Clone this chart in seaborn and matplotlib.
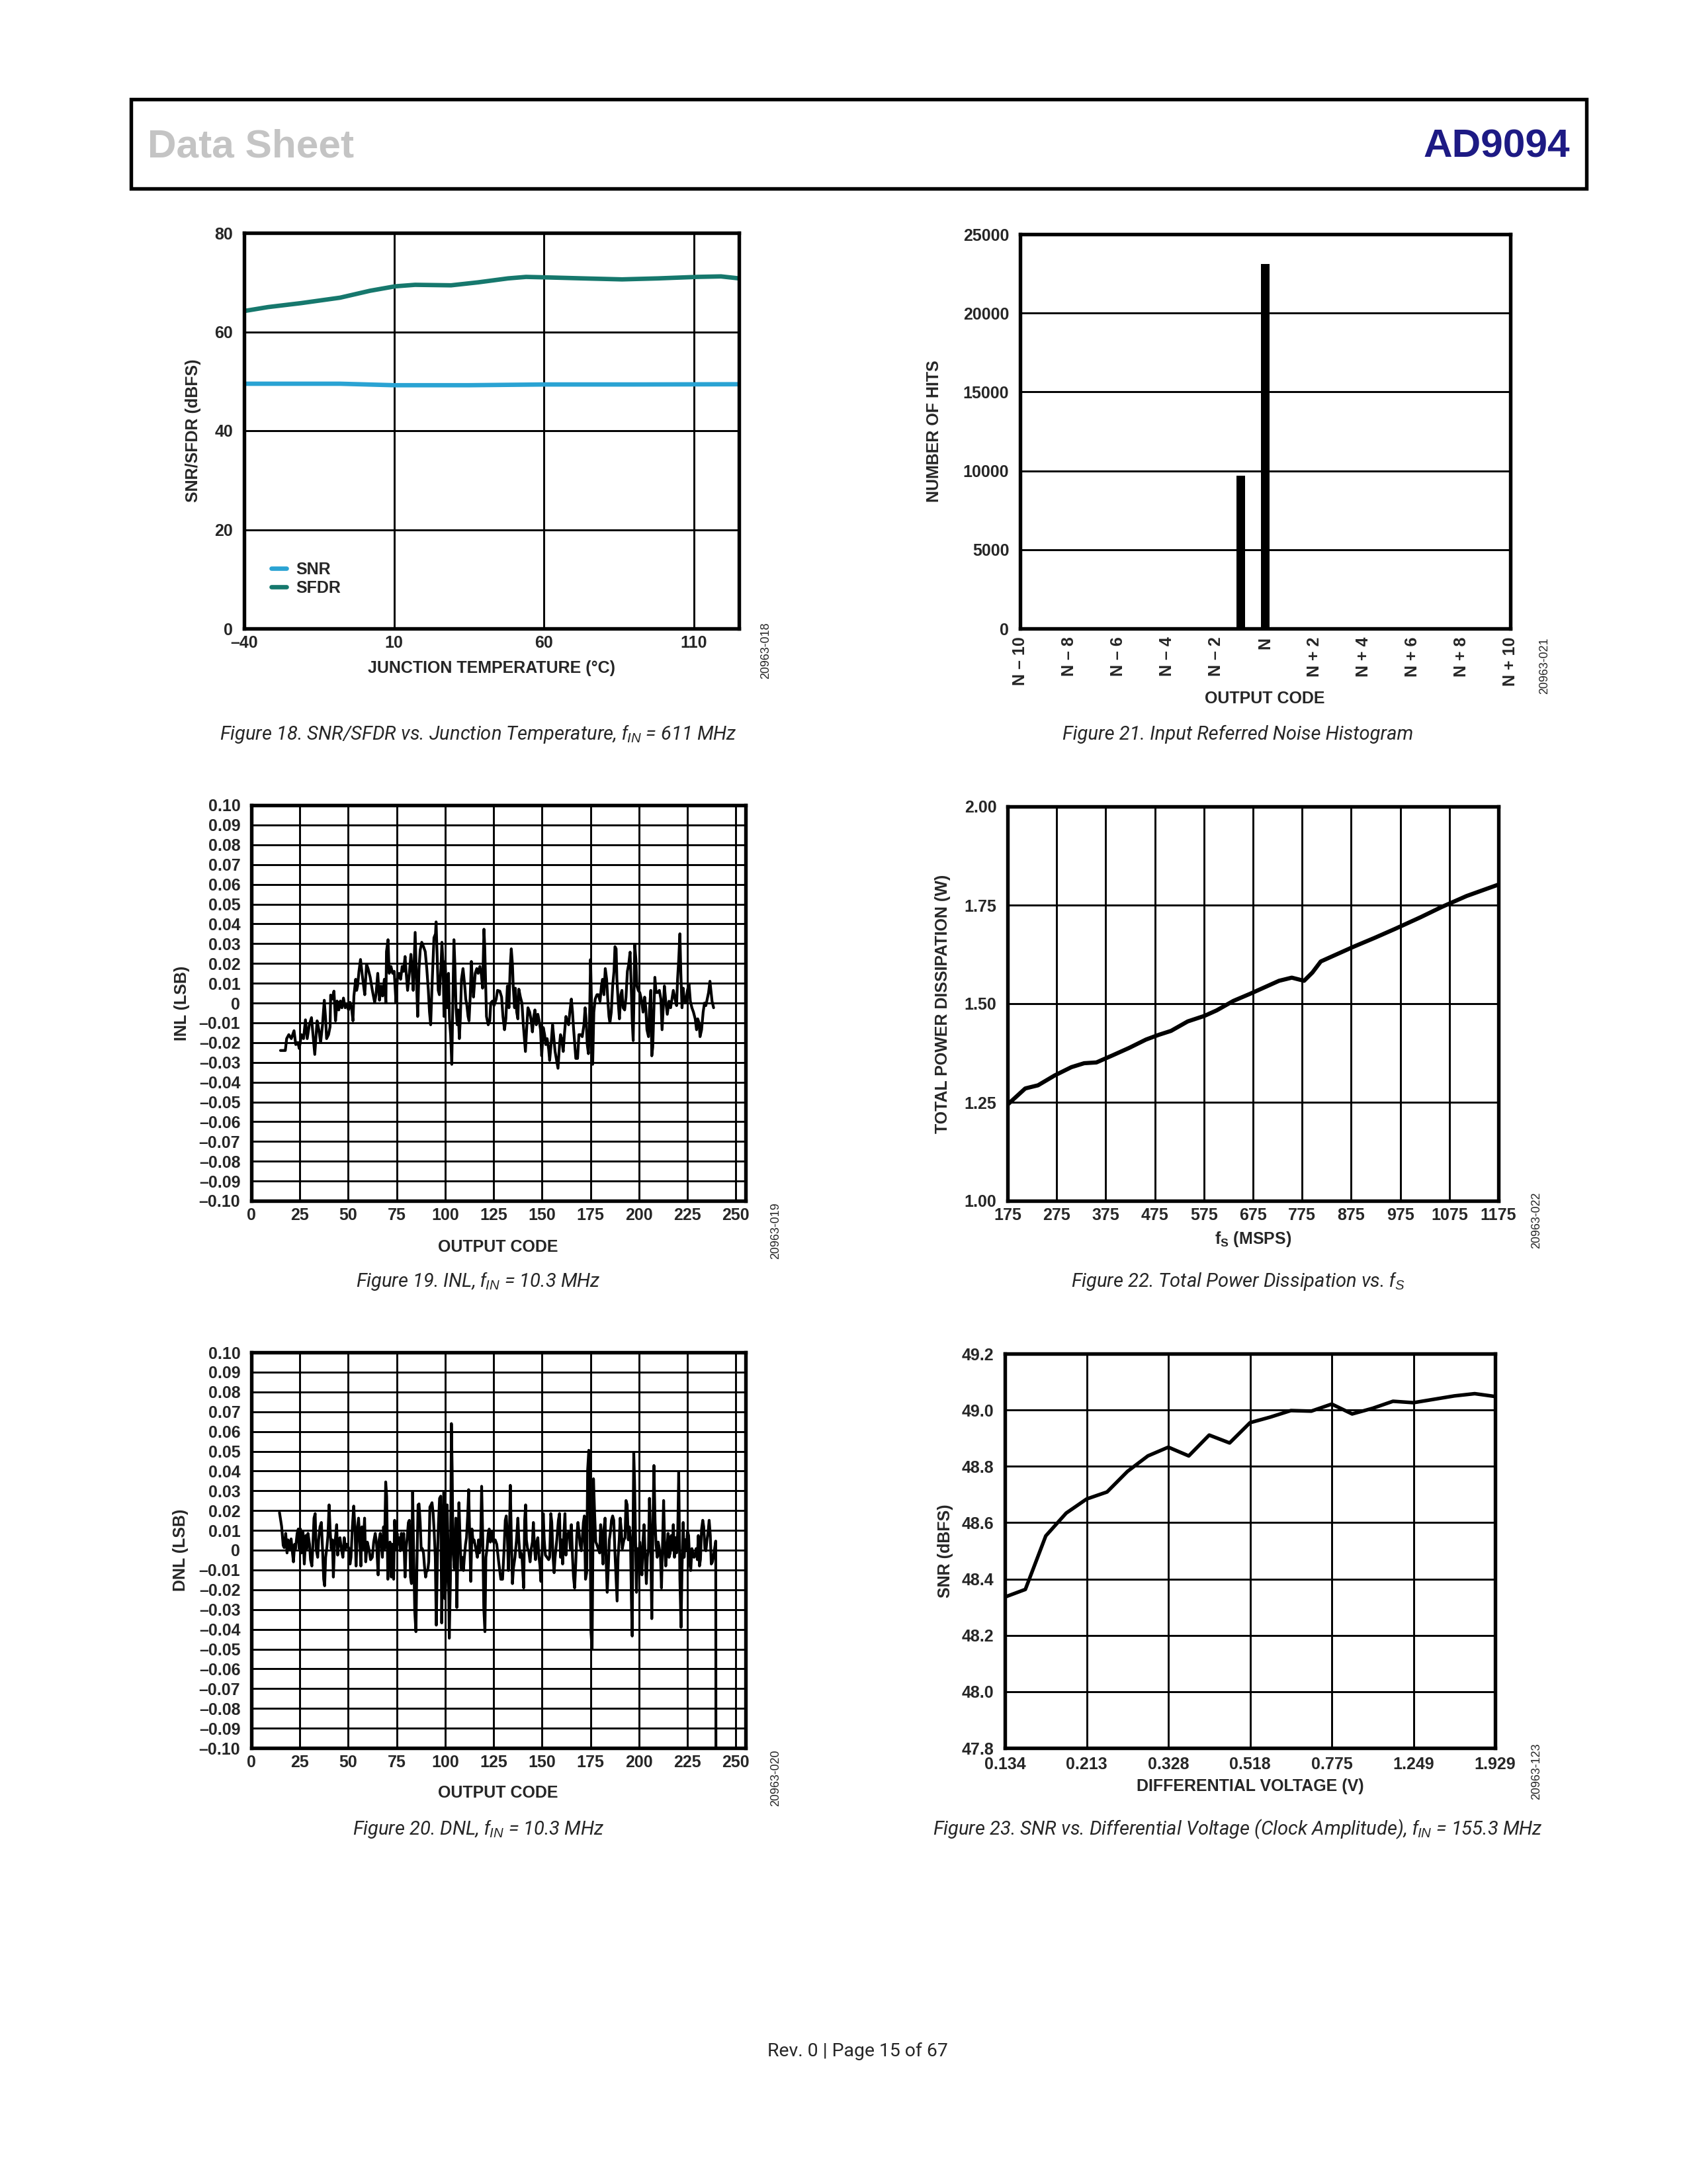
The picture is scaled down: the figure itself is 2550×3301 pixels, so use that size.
import matplotlib
matplotlib.use("Agg")
import matplotlib.pyplot as plt
from matplotlib.lines import Line2D
from matplotlib.patches import Rectangle
import seaborn as sns

# ── data ────────────────────────────────────────────────────────────────────
# Figure 18: SNR/SFDR vs junction temperature
temp_sfdr = [-40, -32, -21, -8, 2, 10.4, 17, 29, 38, 48, 54, 61, 73, 86, 98, 111, 119, 125]
sfdr_dbfs = [64.2, 65.0, 65.8, 66.9, 68.3, 69.2, 69.5, 69.4, 70.0, 70.8, 71.1, 71.0,
             70.8, 70.6, 70.8, 71.1, 71.2, 70.8]
temp_snr = [-40, -8, 10, 35, 60, 90, 125]
snr_dbfs = [49.5, 49.5, 49.2, 49.2, 49.35, 49.35, 49.4]

# Figure 21: input referred noise histogram
hist_offset = [-1, 0]
hist_hits = [9700, 23100]
hist_tick_pos = [-10, -8, -6, -4, -2, 0, 2, 4, 6, 8, 10]
hist_tick_lbl = ["N \u2013 10", "N \u2013 8", "N \u2013 6", "N \u2013 4", "N \u2013 2", "N",
                 "N + 2", "N + 4", "N + 6", "N + 8", "N + 10"]

# Figure 19: INL
inl_code = [15.0, 17.5, 18.2, 19.3, 20.6, 22.0, 22.9, 24.0, 24.7, 25.8, 26.9, 27.9, 28.8,
            29.9, 31.0, 31.8, 32.7, 33.9, 34.8, 35.7, 36.7, 37.6, 38.3, 38.8, 39.8, 40.6,
            40.9, 41.7, 42.6, 43.4, 44.2, 45.1, 45.9, 46.7, 47.5, 48.4, 49.3, 50.1, 50.9,
            51.8, 52.4, 52.9, 53.8, 54.3, 54.8, 55.5, 56.3, 57.1, 57.6, 58.5, 59.4, 60.2,
            61.3, 62.4, 63.6, 64.3, 65.2, 66.1, 66.9, 67.7, 68.6, 69.4, 69.7, 70.5, 71.1,
            72.0, 72.9, 73.7, 74.6, 75.3, 76.2, 77.0, 77.8, 78.5, 79.3, 79.8, 80.6, 81.5,
            82.3, 83.0, 83.5, 84.5, 85.2, 85.8, 86.5, 87.1, 87.9, 88.8, 89.7, 90.5, 91.3,
            91.9, 92.5, 93.3, 94.2, 95.0, 95.3, 95.9, 96.4, 97.0, 97.8, 98.3, 98.9, 99.4,
            100.0, 100.6, 101.1, 101.7, 102.2, 102.8, 103.4, 103.9, 104.5, 105.0, 105.6,
            106.2, 106.7, 107.3, 107.8, 108.4, 109.2, 110.1, 110.6, 111.2, 111.8, 112.3,
            112.9, 113.5, 114.0, 114.6, 115.5, 116.3, 117.0, 117.9, 118.7, 119.3, 120.0,
            120.4, 120.9, 121.3, 122.2, 123.0, 123.5, 124.4, 125.2, 126.3, 127.0, 128.2,
            129.1, 129.8, 130.6, 131.3, 132.1, 132.9, 133.5, 134.1, 134.7, 135.1, 135.8,
            136.2, 136.9, 137.5, 138.0, 138.8, 139.6, 140.3, 140.7, 141.4, 142.0, 142.7,
            143.6, 144.4, 145.0, 145.7, 146.3, 147.0, 147.8, 148.5, 149.2, 149.8, 150.6,
            151.3, 151.9, 152.6, 153.4, 153.9, 154.7, 155.4, 155.9, 156.7, 157.5, 158.2,
            159.0, 159.5, 160.1, 160.9, 161.5, 162.3, 162.9, 163.7, 164.3, 165.1, 165.7,
            166.2, 166.8, 167.4, 168.3, 169.0, 169.9, 170.7, 171.6, 172.2, 172.7, 173.3,
            173.9, 174.4, 175.0, 175.6, 176.1, 176.7, 177.4, 178.3, 179.1, 179.9, 180.6,
            181.2, 181.9, 182.6, 183.3, 184.0, 184.5, 185.0, 185.7, 186.4, 187.1, 187.6,
            188.2, 188.6, 189.3, 189.9, 190.6, 191.2, 191.8, 192.6, 193.3, 194.0, 194.7,
            195.4, 195.9, 196.5, 197.0, 197.4, 197.8, 198.4, 198.9, 199.6, 200.4, 201.2,
            202.1, 202.9, 203.5, 204.1, 204.9, 205.4, 206.1, 206.6, 207.1, 207.7, 208.2,
            208.8, 209.6, 210.5, 211.3, 211.9, 212.5, 213.1, 213.8, 214.6, 215.5, 216.3,
            217.0, 217.7, 218.6, 219.4, 219.9, 220.5, 221.1, 221.6, 222.2, 222.8, 223.3,
            224.1, 225.0, 225.8, 226.5, 227.3, 228.1, 229.0, 229.7, 230.3, 231.0, 231.5,
            232.3, 233.1, 233.8, 234.5, 235.2, 235.9, 236.6, 237.1, 237.7, 238.5]
inl_lsb = [-0.024, -0.024, -0.018, -0.016, -0.018, -0.014, -0.021, -0.020, -0.023, -0.016,
           -0.018, -0.0085, -0.018, -0.011, -0.0074, -0.016, -0.026, -0.009, -0.0135, -0.020,
           -0.011, 0.0014, -0.008, -0.018, -0.016, -0.012, 0.004, 0.002, 0.006, -0.009,
           0.001, -0.0035, 0.001, -0.0024, 0.0025, -0.0024, -0.0008, -0.0035, 0.0003, -0.0035,
           -0.009, 0.0036, 0.012, 0.0064, 0.0086, 0.016, 0.022, 0.015, 0.011, 0.0042,
           0.0196, 0.0174, 0.013, 0.0064, 0.0003, 0.0042, 0.015, 0.0014, 0.0086, 0.0036,
           0.012, 0.0, 0.026, 0.032, 0.015, 0.0185, 0.015, 0.016, 0.0003, 0.012,
           0.015, 0.012, 0.0185, 0.016, 0.0235, 0.016, 0.0064, 0.015, 0.0246, 0.016,
           0.0064, 0.0357, 0.011, -0.0068, 0.0174, 0.0268, 0.0307, 0.0285, 0.026, 0.0174,
           0.0064, -0.0046, -0.011, 0.011, 0.033, 0.035, 0.041, 0.022, 0.0064, 0.0042,
           0.0174, 0.0307, 0.0196, -0.0068, 0.021, 0.003, -0.0024, 0.015, -0.008, -0.016,
           -0.031, -0.0024, 0.032, 0.0196, -0.0024, -0.011, -0.0035, -0.018, -0.008, 0.012,
           0.0174, 0.0086, 0.002, -0.0013, -0.0068, -0.009, 0.003, 0.021, 0.011, 0.003,
           0.015, 0.0174, 0.015, 0.0185, 0.014, 0.0075, 0.0373, 0.0285, 0.0086, -0.0068,
           -0.011, -0.009, 0.0, 0.001, -0.0013, 0.002, 0.0064, 0.006, 0.003, -0.0068,
           -0.0135, -0.008, 0.0086, -0.0024, 0.0174, 0.0274, 0.0196, 0.0086, -0.0024, 0.0075,
           -0.0046, -0.008, 0.007, 0.003, 0.0, -0.011, -0.016, -0.0245, -0.0135, -0.0024,
           -0.0046, -0.009, -0.0146, -0.0068, -0.0035, -0.011, -0.0057, -0.009, -0.0135, -0.0267,
           -0.0124, -0.016, -0.021, -0.018, -0.0234, -0.029, -0.020, -0.011, -0.016, -0.0245,
           -0.029, -0.033, -0.021, -0.016, -0.018, -0.0245, -0.016, -0.0068, -0.009, -0.011,
           -0.0046, 0.002, -0.0046, -0.0124, -0.020, -0.028, -0.028, -0.016, -0.016, -0.017,
           -0.011, -0.0024, -0.008, -0.021, -0.0256, -0.0135, 0.022, -0.0046, -0.031, -0.0046,
           0.002, 0.0042, 0.0042, 0.0009, 0.0086, 0.012, 0.0042, 0.0174, 0.012, 0.0,
           -0.0068, -0.010, -0.0046, 0.0086, 0.016, 0.0285, 0.0274, 0.012, 0.0, -0.008,
           0.0042, 0.0064, -0.0024, -0.0035, 0.003, 0.016, 0.0196, 0.0257, 0.011, -0.009,
           -0.019, 0.002, 0.0296, 0.022, 0.0086, 0.0064, 0.0053, 0.002, -0.0046, 0.003,
           -0.0024, -0.0135, -0.017, -0.0035, 0.0064, -0.0267, -0.0223, -0.0024, 0.013, 0.0053,
           0.0053, 0.0064, 0.002, -0.0135, -0.0024, 0.0086, 0.0009, -0.0057, 0.0009, -0.0024,
           0.002, 0.0064, 0.002, -0.0013, 0.012, 0.022, 0.035, 0.015, -0.0024, 0.0075,
           0.002, 0.0, 0.0064, 0.0097, 0.0009, -0.0024, -0.0046, -0.008, -0.0135, -0.008,
           -0.010, -0.017, -0.0135, -0.0046, 0.0, -0.0013, 0.002, 0.0053, 0.011, 0.0064,
           0.0009, -0.0024]

# Figure 20: DNL
dnl_code = [14.5, 15.6, 16.4, 16.9, 17.7, 18.4, 18.9, 19.7, 20.5, 21.2, 21.7, 22.3, 22.8,
            23.6, 24.2, 24.7, 25.3, 25.8, 26.6, 27.3, 28.1, 28.6, 29.2, 30.0, 30.5, 31.2,
            31.7, 32.3, 32.9, 33.4, 34.2, 34.7, 35.4, 36.1, 36.7, 37.3, 37.8, 38.3, 39.0,
            39.5, 40.1, 40.6, 41.2, 41.8, 42.3, 42.9, 43.4, 44.0, 44.5, 45.1, 45.7, 46.4,
            47.2, 47.9, 48.6, 49.4, 50.3, 50.9, 51.4, 52.1, 52.8, 53.5, 54.0, 54.8, 55.3,
            55.9, 56.5, 57.0, 57.6, 58.4, 59.0, 59.8, 60.6, 61.5, 62.4, 63.1, 63.9, 64.6,
            65.4, 65.9, 66.5, 67.0, 67.6, 68.2, 68.7, 69.3, 69.8, 70.4, 70.9, 71.5, 72.2,
            72.8, 73.4, 73.9, 74.6, 75.2, 75.7, 76.3, 76.8, 77.4, 77.9, 78.6, 79.3, 79.8,
            80.4, 81.0, 81.5, 82.1, 82.6, 83.2, 83.7, 84.3, 84.9, 85.4, 86.0, 86.5, 87.1,
            87.6, 88.2, 88.8, 89.3, 89.9, 90.4, 91.0, 91.5, 92.1, 92.7, 93.2, 93.8, 94.3,
            94.9, 95.4, 96.0, 96.5, 97.1, 97.7, 98.2, 98.8, 99.3, 99.9, 100.4, 101.0, 101.6,
            102.1, 102.7, 103.2, 103.6, 104.0, 104.7, 105.5, 106.0, 106.6, 107.1, 107.7,
            108.2, 108.8, 109.4, 109.9, 110.5, 111.0, 111.6, 112.1, 112.7, 113.2, 113.8,
            114.4, 114.9, 115.8, 116.6, 117.2, 117.7, 118.3, 118.8, 119.4, 119.9, 120.5,
            121.0, 121.6, 122.2, 122.7, 123.3, 123.8, 124.9, 125.8, 126.6, 127.6, 128.7,
            129.6, 130.4, 131.0, 131.5, 132.1, 132.6, 133.2, 133.6, 134.1, 134.7, 135.2,
            136.0, 136.8, 137.5, 138.0, 138.6, 139.2, 139.7, 140.5, 141.0, 141.5, 141.9,
            142.5, 143.1, 143.8, 144.4, 145.0, 145.5, 146.1, 146.6, 147.2, 147.8, 148.3,
            148.9, 149.4, 150.0, 150.6, 151.1, 151.7, 152.5, 153.4, 153.9, 154.5, 155.0,
            155.6, 156.2, 156.7, 157.6, 158.4, 159.0, 159.5, 160.1, 160.6, 161.2, 161.8,
            162.3, 162.9, 163.4, 164.0, 164.6, 165.1, 165.7, 166.2, 166.8, 167.4, 167.9,
            168.5, 169.0, 169.6, 170.2, 170.7, 171.3, 171.8, 172.4, 173.0, 173.5, 174.1,
            174.6, 175.2, 175.8, 176.1, 176.5, 177.1, 177.7, 178.2, 178.9, 179.7, 180.2,
            180.8, 181.4, 181.9, 182.5, 183.0, 183.6, 184.2, 184.7, 185.3, 185.8, 186.4,
            187.0, 187.5, 188.1, 188.7, 189.2, 189.8, 190.3, 190.9, 191.4, 192.2, 192.8,
            193.3, 193.9, 194.5, 195.0, 195.6, 196.1, 196.5, 196.8, 197.3, 197.7, 198.2,
            198.7, 199.3, 199.8, 200.4, 201.0, 201.5, 202.1, 202.6, 203.2, 203.8, 204.3,
            204.9, 205.4, 206.0, 206.6, 207.1, 207.7, 208.3, 208.8, 209.4, 209.9, 210.5,
            211.1, 211.6, 212.2, 212.7, 213.3, 213.8, 214.4, 215.0, 215.5, 216.1, 216.6,
            217.2, 217.7, 218.3, 218.9, 219.4, 220.0, 220.5, 221.1, 221.7, 222.2, 222.8,
            223.3, 223.9, 224.5, 225.0, 225.6, 226.2, 226.7, 227.3, 227.8, 228.4, 229.0,
            229.5, 230.1, 230.6, 231.2, 231.7, 232.3, 232.9, 233.4, 234.0, 234.5, 235.1,
            235.7, 236.2, 236.8, 237.3, 237.9, 238.5, 239.0, 239.6, 239.7]
dnl_lsb = [0.019, 0.012, 0.0024, 0.0013, 0.0085, -0.0014, 0.0052, 0.0008, 0.0057, -0.0014,
           -0.0059, 0.003, 0.0008, 0.0085, 0.0107, 0.0008, 0.0107, -0.0014, 0.0096, -0.007,
           0.0074, 0.0008, 0.0085, 0.003, -0.0048, -0.008, 0.0019, 0.0162, 0.0185, 0.0008,
           -0.0036, 0.0052, 0.0118, 0.014, 0.0008, -0.0147, -0.018, -0.0036, 0.0019, 0.0074,
           0.0229, 0.0107, 0.0008, 0.0052, -0.0136, 0.003, 0.0063, 0.0129, -0.0025, 0.0052,
           0.0063, 0.0008, -0.0036, 0.0063, 0.0008, 0.003, 0.0008, -0.007, -0.0036, 0.0118,
           0.0223, 0.0096, -0.008, 0.0118, 0.0162, 0.0052, -0.008, 0.0118, 0.0008, 0.0162,
           -0.0059, 0.0041, 0.0008, -0.0048, -0.0036, 0.0041, 0.0085, 0.003, -0.0125, 0.0052,
           0.0085, 0.0041, -0.0036, 0.0118, 0.0008, 0.0345, 0.0273, -0.0147, 0.0008, 0.0041,
           -0.0136, 0.003, -0.0147, 0.0151, 0.0008, 0.0085, 0.003, 0.0063, -0.0003, 0.0085,
           0.0008, 0.0085, -0.0136, 0.0008, 0.0063, 0.014, 0.0151, -0.0136, -0.0169, 0.0295,
           0.0008, -0.0313, -0.0412, -0.008, 0.0229, 0.0234, 0.014, 0.0008, 0.0008, -0.0014,
           -0.008, -0.0136, -0.0103, -0.0103, -0.0059, 0.0218, 0.0229, 0.024, 0.0185, 0.0096,
           -0.0036, -0.0379, -0.0036, 0.0129, 0.0262, 0.0273, -0.0368, 0.0052, 0.0295, -0.0246,
           -0.0147, 0.0229, -0.0036, -0.0445, -0.0147, 0.064, 0.0405, 0.0008, -0.0092, 0.0162,
           -0.029, 0.003, 0.024, 0.0052, -0.0092, -0.0036, -0.0103, -0.0036, 0.003, 0.0063,
           0.0173, 0.0306, 0.0052, -0.0158, 0.0107, 0.0041, 0.0052, 0.0008, -0.0036, 0.0052,
           -0.0014, 0.0052, 0.0323, 0.0052, -0.029, -0.0412, -0.0036, 0.0008, 0.0085, 0.0107,
           0.0041, 0.0096, 0.0041, 0.0052, 0.003, -0.0059, -0.0147, -0.0147, 0.0008, 0.0151,
           0.0173, 0.0074, -0.0103, 0.0107, 0.0328, 0.0074, -0.0169, -0.0092, -0.0036, 0.0052,
           0.0162, 0.0052, -0.0036, -0.0014, -0.0048, -0.0191, 0.0151, 0.0229, 0.0052, 0.0008,
           -0.0003, -0.0059, 0.0008, 0.0041, 0.014, 0.0008, -0.0048, 0.0041, 0.0063, -0.0025,
           -0.008, -0.0158, -0.0014, 0.0185, 0.0052, -0.0025, -0.0036, -0.0048, -0.0036, 0.0185,
           0.014, -0.0025, -0.0114, -0.0036, 0.0052, 0.0151, 0.0185, -0.0036, 0.0052, -0.007,
           0.0074, 0.0185, -0.0025, 0.0074, 0.0085, 0.0096, 0.0008, 0.0129, -0.0036, -0.0136,
           -0.0191, -0.0059, 0.0074, 0.014, 0.0096, 0.003, -0.0003, 0.0052, 0.014, 0.0173,
           -0.0147, -0.0114, 0.0406, 0.0505, 0.035, -0.0412, -0.050, -0.0147, 0.0361, 0.0185,
           0.0041, 0.003, 0.0008, -0.0014, 0.0129, 0.0052, -0.007, 0.0107, 0.0162, -0.0036,
           -0.0213, -0.008, 0.0052, 0.0096, 0.0151, 0.0173, 0.0151, 0.0008, -0.0125, -0.0257,
           -0.0036, 0.0052, 0.0162, 0.0096, 0.0008, 0.0052, 0.0063, 0.0251, 0.0229, 0.0052,
           0.0118, 0.0052, -0.0257, -0.0434, -0.0036, 0.0494, 0.035, 0.0074, -0.0213, 0.0008,
           -0.0092, 0.0041, -0.0036, -0.0125, 0.0052, 0.0129, -0.0036, -0.0169, -0.0036, 0.0008,
           0.0262, 0.0063, -0.0346, 0.0052, 0.0428, 0.014, 0.003, -0.0036, 0.0041, 0.0008,
           -0.0036, -0.0191, 0.0052, 0.0251, 0.0008, -0.008, 0.0008, 0.0085, -0.0036, -0.0014,
           0.0074, 0.0008, 0.0129, -0.0036, 0.0063, -0.0014, 0.0096, 0.0394, -0.0147, -0.039,
           -0.0092, 0.014, -0.0036, 0.0052, -0.0003, 0.0096, 0.0074, -0.007, -0.0103, 0.0008,
           -0.0014, -0.0036, -0.0025, 0.0008, -0.0048, 0.0074, -0.008, -0.0048, 0.0107, 0.0151,
           0.0118, 0.0008, -0.0003, 0.0052, 0.0096, 0.0151, 0.0074, -0.007, -0.0059, -0.0025,
           0.0008, 0.0046, -0.105]

# Figure 22: total power dissipation vs fS
fs_msps = [175, 211, 237, 271, 305, 331, 356, 389, 423, 457, 483, 508, 542, 576, 601, 635,
           669, 703, 728, 754, 779, 796, 813, 838, 881, 923, 965, 1016, 1059, 1110, 1175]
power_w = [1.244, 1.285, 1.293, 1.318, 1.339, 1.349, 1.351, 1.369, 1.388, 1.409, 1.421,
           1.431, 1.455, 1.469, 1.483, 1.507, 1.525, 1.544, 1.558, 1.566, 1.558, 1.579,
           1.607, 1.621, 1.645, 1.667, 1.690, 1.719, 1.745, 1.773, 1.802]

# Figure 23: SNR vs differential clock voltage (25 evenly spaced steps)
clk_step = list(range(25))
clk_snr = [48.336, 48.363, 48.553, 48.634, 48.684, 48.709, 48.782, 48.837, 48.868, 48.837,
           48.911, 48.883, 48.955, 48.975, 48.998, 48.996, 49.021, 48.986, 49.006, 49.031,
           49.026, 49.038, 49.050, 49.058, 49.048]
clk_tick_pos = [0, 4, 8, 12, 16, 20, 24]
clk_tick_lbl = ["0.134", "0.213", "0.328", "0.518", "0.775", "1.249", "1.929"]

# ── styling ─────────────────────────────────────────────────────────────────
sns.set_style("white")
plt.rcParams["font.family"] = ["Liberation Sans", "DejaVu Sans"]
plt.rcParams["mathtext.fontset"] = "custom"
plt.rcParams["mathtext.rm"] = "Liberation Sans"
plt.rcParams["mathtext.it"] = "Liberation Sans:italic"
plt.rcParams["mathtext.bf"] = "Liberation Sans:bold"

W, H = 2550, 3301
fig = plt.figure(figsize=(W / 300, H / 300), dpi=300)
fig.patch.set_facecolor("white")

TICK_FS = 6
LBL_FS = 6
CAP_FS = 7.0
CAP_FONT = ["Roboto", "Liberation Sans", "DejaVu Sans"]


def fx(x):
    return x / W


def fy(y):
    return 1 - y / H


def make_axes(left, top, right, bottom):
    ax = fig.add_axes([left / W, 1 - bottom / H, (right - left) / W, (bottom - top) / H])
    for sp in ax.spines.values():
        sp.set_color("black")
        sp.set_linewidth(1.3)
        sp.set_visible(True)
    ax.tick_params(length=0, labelsize=TICK_FS, pad=2.5)
    ax.set_axisbelow(True)
    return ax


def finish(ax):
    ax.set_xlabel("")
    ax.set_ylabel("")
    for lab in ax.get_xticklabels() + ax.get_yticklabels():
        lab.set_fontweight("bold")
    ax.grid(True, color="black", linewidth=0.7)


def label(x, y, s, rot=0, size=LBL_FS, weight="bold"):
    fig.text(fx(x), fy(y), s, ha="center", va="center", rotation=rot,
             fontsize=size, fontweight=weight)


def caption(x, y, s):
    fig.text(fx(x), fy(y), s, ha="center", va="center", fontsize=CAP_FS,
             style="italic", family=CAP_FONT)


def code(x, y, s):
    fig.text(fx(x), fy(y), s, ha="center", va="center", rotation=90, fontsize=4.3)


# ── page header / footer ───────────────────────────────────────────────────
fig.patches.append(Rectangle((fx(198), fy(285)), (2398 - 198) / W, (285 - 150) / H,
                             transform=fig.transFigure, fill=False, edgecolor="black",
                             linewidth=1.3))
fig.text(fx(223), fy(222), "Data Sheet", ha="left", va="center", fontsize=14.5,
         fontweight="bold", color="#c4c4c4")
fig.text(fx(2373), fy(222), "AD9094", ha="right", va="center", fontsize=14.5,
         fontweight="bold", color="#1d1a84")
fig.text(fx(1296), fy(3100), "Rev. 0 | Page 15 of 67", ha="center", va="center",
         fontsize=6.8, family=CAP_FONT)

# ── Figure 18 ───────────────────────────────────────────────────────────────
ax = make_axes(369, 352, 1117, 950)
snr_c, sfdr_c = "#2aa3d3", "#16786d"
sns.lineplot(x=temp_snr, y=snr_dbfs, ax=ax, color=snr_c, linewidth=1.6, sort=False,
             estimator=None)
sns.lineplot(x=temp_sfdr, y=sfdr_dbfs, ax=ax, color=sfdr_c, linewidth=1.6, sort=False,
             estimator=None)
ax.set_xlim(-40, 125)
ax.set_ylim(0, 80)
ax.set_xticks([-40, 10, 60, 110])
ax.set_xticklabels(["\u201340", "10", "60", "110"])
ax.set_yticks([0, 20, 40, 60, 80])
ax.tick_params(axis="y", pad=4)
finish(ax)
handles = [Line2D([], [], color=snr_c, lw=1.6), Line2D([], [], color=sfdr_c, lw=1.6)]
ax.legend(handles, ["SNR", "SFDR"], loc="lower left", bbox_to_anchor=(0.025, 0.045),
          frameon=False, handlelength=0.9, handletextpad=0.6, labelspacing=0.15,
          prop={"size": 6, "weight": "bold"})
label(743, 1010, "JUNCTION TEMPERATURE (\u00b0C)")
label(292, 651, "SNR/SFDR (dBFS)", rot=90)
code(1158, 983, "20963-018")
caption(723, 1110, r"Figure 18. SNR/SFDR vs. Junction Temperature, $\mathit{f}_{\mathit{IN}}$ = 611 MHz")

# ── Figure 21 ───────────────────────────────────────────────────────────────
ax = make_axes(1542, 354, 2283, 950)
sns.barplot(x=hist_offset, y=hist_hits, ax=ax, native_scale=True, width=0.34,
            color="black", saturation=1, errorbar=None, edgecolor="black", linewidth=0)
ax.set_xlim(-10, 10)
ax.set_ylim(0, 25000)
ax.set_yticks([0, 5000, 10000, 15000, 20000, 25000])
ax.set_xticks(hist_tick_pos)
ax.set_xticklabels(hist_tick_lbl, rotation=90)
ax.tick_params(axis="x", pad=3)
ax.tick_params(axis="y", pad=4)
finish(ax)
ax.xaxis.grid(False)
label(1912, 1056, "OUTPUT CODE")
label(1412, 652, "NUMBER OF HITS", rot=90)
code(2335, 1006, "20963-021")
caption(1871, 1110, "Figure 21. Input Referred Noise Histogram")

lsb_ticks = [round(-0.10 + 0.01 * i, 2) for i in range(21)]
lsb_lbls = ["0" if abs(v) < 1e-9 else f"{v:.2f}".replace("-", "\u2013") for v in lsb_ticks]

# ── Figure 19 ───────────────────────────────────────────────────────────────
ax = make_axes(380, 1217, 1127, 1815)
sns.lineplot(x=inl_code, y=inl_lsb, ax=ax, color="black", linewidth=1.0, sort=False,
             estimator=None)
ax.set_xlim(0, 255)
ax.set_ylim(-0.10, 0.10)
ax.set_xticks(range(0, 251, 25))
ax.set_yticks(lsb_ticks)
ax.set_yticklabels(lsb_lbls)
ax.tick_params(axis="y", pad=4)
finish(ax)
label(753, 1885, "OUTPUT CODE")
label(275, 1516, "INL (LSB)", rot=90)
code(1173, 1860, "20963-019")
caption(723, 1937, r"Figure 19. INL, $\mathit{f}_{\mathit{IN}}$ = 10.3 MHz")

# ── Figure 22 ───────────────────────────────────────────────────────────────
ax = make_axes(1523, 1219, 2265, 1815)
sns.lineplot(x=fs_msps, y=power_w, ax=ax, color="black", linewidth=1.5, sort=False,
             estimator=None)
ax.set_xlim(175, 1175)
ax.set_ylim(1.0, 2.0)
ax.set_xticks(range(175, 1176, 100))
ax.set_yticks([1.0, 1.25, 1.5, 1.75, 2.0])
ax.set_yticklabels(["1.00", "1.25", "1.50", "1.75", "2.00"])
ax.tick_params(axis="y", pad=4)
finish(ax)
label(1894, 1873, r"$\mathbf{f_S}$ (MSPS)")
label(1425, 1517, "TOTAL POWER DISSIPATION (W)", rot=90)
code(2323, 1844, "20963-022")
caption(1871, 1937, r"Figure 22. Total Power Dissipation vs. $\mathit{f}_{\mathit{S}}$")

# ── Figure 20 ───────────────────────────────────────────────────────────────
ax = make_axes(380, 2044, 1127, 2642)
sns.lineplot(x=dnl_code, y=dnl_lsb, ax=ax, color="black", linewidth=1.0, sort=False,
             estimator=None)
ax.set_xlim(0, 255)
ax.set_ylim(-0.10, 0.10)
ax.set_xticks(range(0, 251, 25))
ax.set_yticks(lsb_ticks)
ax.set_yticklabels(lsb_lbls)
ax.tick_params(axis="y", pad=4)
finish(ax)
label(753, 2710, "OUTPUT CODE")
label(273, 2343, "DNL (LSB)", rot=90)
code(1173, 2687, "20963-020")
caption(723, 2765, r"Figure 20. DNL, $\mathit{f}_{\mathit{IN}}$ = 10.3 MHz")

# ── Figure 23 ───────────────────────────────────────────────────────────────
ax = make_axes(1519, 2046, 2260, 2642)
sns.lineplot(x=clk_step, y=clk_snr, ax=ax, color="black", linewidth=1.3, sort=False,
             estimator=None)
ax.set_xlim(0, 24)
ax.set_ylim(47.8, 49.2)
ax.set_xticks(clk_tick_pos)
ax.set_xticklabels(clk_tick_lbl)
ax.set_yticks([47.8, 48.0, 48.2, 48.4, 48.6, 48.8, 49.0, 49.2])
ax.set_yticklabels(["47.8", "48.0", "48.2", "48.4", "48.6", "48.8", "49.0", "49.2"])
ax.tick_params(axis="y", pad=4)
ax.tick_params(axis="x", pad=3.2)
finish(ax)
label(1890, 2700, "DIFFERENTIAL VOLTAGE (V)")
label(1429, 2344, "SNR (dBFS)", rot=90)
code(2323, 2677, "20963-123")
caption(1871, 2765, r"Figure 23. SNR vs. Differential Voltage (Clock Amplitude), $\mathit{f}_{\mathit{IN}}$ = 155.3 MHz")

fig.savefig("out.png", dpi=300, facecolor="white")
